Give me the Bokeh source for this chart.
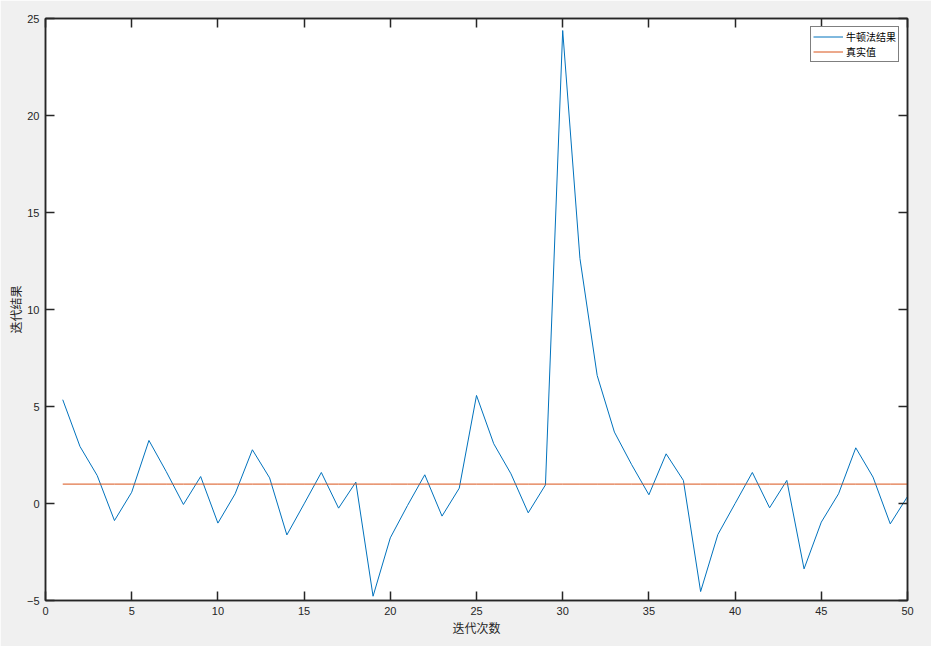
from bokeh.plotting import figure
from bokeh.models import (LinearAxis, Range1d, Label, Legend, LegendItem, FixedTicker,
                          CustomJSTickFormatter)
from bokeh.embed import file_html
from bokeh.resources import INLINE
try:
    from bokeh.models import HTMLLabel as WMLabel
except ImportError:
    WMLabel = Label

iterations = list(range(1, 51))
newton = [5.35, 2.94, 1.44, -0.88, 0.58, 3.25, 1.65, -0.05, 1.39, -1.01,
          0.5, 2.77, 1.32, -1.62, -0.02, 1.6, -0.24, 1.1, -4.78, -1.77,
          -0.1, 1.48, -0.65, 0.79, 5.57, 3.08, 1.53, -0.48, 0.96, 24.38,
          12.63, 6.6, 3.68, 2.0, 0.45, 2.56, 1.19, -4.54, -1.6, 0.0,
          1.6, -0.22, 1.19, -3.37, -0.96, 0.5, 2.87, 1.36, -1.05, 0.36]
true_value = [1.0] * 50
x_ticks = [0, 5, 10, 15, 20, 25, 30, 35, 40, 45, 50]
y_ticks = [-5, 0, 5, 10, 15, 20, 25]

AX = "#262626"
p = figure(width=931, height=646, output_backend="svg", toolbar_location=None,
           x_range=Range1d(0, 50), y_range=Range1d(-5, 25),
           min_border_left=45, min_border_right=24, min_border_top=18, min_border_bottom=46,
           background_fill_color="white", border_fill_color="#f0f0f0",
           outline_line_color=AX, outline_line_width=1.5)
p.grid.visible = False

r1 = p.line(iterations, newton, line_color="#0072BD", line_width=1)
r2 = p.line(iterations, true_value, line_color="#D95319", line_width=1)

def style(ax, show_labels=True):
    ax.axis_line_color = AX
    ax.axis_line_width = 1.5
    ax.major_tick_line_color = AX
    ax.major_tick_line_width = 1.5
    ax.major_tick_in = 9
    ax.major_tick_out = 0
    ax.minor_tick_line_color = None
    ax.major_label_text_color = AX
    ax.major_label_text_font = "Liberation Sans"
    ax.major_label_text_font_size = "11px"
    ax.major_label_standoff = 6 if show_labels else 0
    ax.axis_label_text_font = "Noto Sans CJK SC"
    ax.axis_label_text_font_size = "12px"
    ax.axis_label_text_font_style = "normal"
    ax.axis_label_text_color = AX

p.xaxis.ticker = FixedTicker(ticks=x_ticks)
p.yaxis.ticker = FixedTicker(ticks=y_ticks)
p.xaxis.axis_label = "迭代次数"
p.yaxis.axis_label = "迭代结果"
style(p.xaxis[0]); style(p.yaxis[0])
p.xaxis.axis_label_standoff = 1
p.yaxis.axis_label_standoff = 0

blank = CustomJSTickFormatter(code="return '';")
top = LinearAxis(ticker=FixedTicker(ticks=x_ticks), formatter=blank)
right = LinearAxis(ticker=FixedTicker(ticks=y_ticks), formatter=blank)
style(top, False); style(right, False)
p.add_layout(top, "above")
p.add_layout(right, "right")

legend = Legend(items=[LegendItem(label="牛顿法结果", renderers=[r1]),
                       LegendItem(label="真实值", renderers=[r2])],
                location="top_right")
legend.label_text_font = "Noto Sans CJK SC"
legend.label_text_font_size = "10px"
legend.label_text_color = "black"
legend.glyph_width = 30
legend.glyph_height = 13
legend.label_height = 13
legend.label_standoff = 3
legend.spacing = 0
legend.padding = 2
legend.margin = 8
legend.border_line_color = "black"
legend.border_line_width = 1
legend.background_fill_color = "white"
legend.background_fill_alpha = 1
p.add_layout(legend)

wm = WMLabel(x=35.2, y=-6.4, text="https://blog.csdn.net/weixin_45693832",
             text_font="Liberation Sans", text_font_size="16px",
             text_color="#cfcfcf", text_baseline="middle")
p.add_layout(wm)

open("out.html", "w").write(file_html(p, INLINE))
